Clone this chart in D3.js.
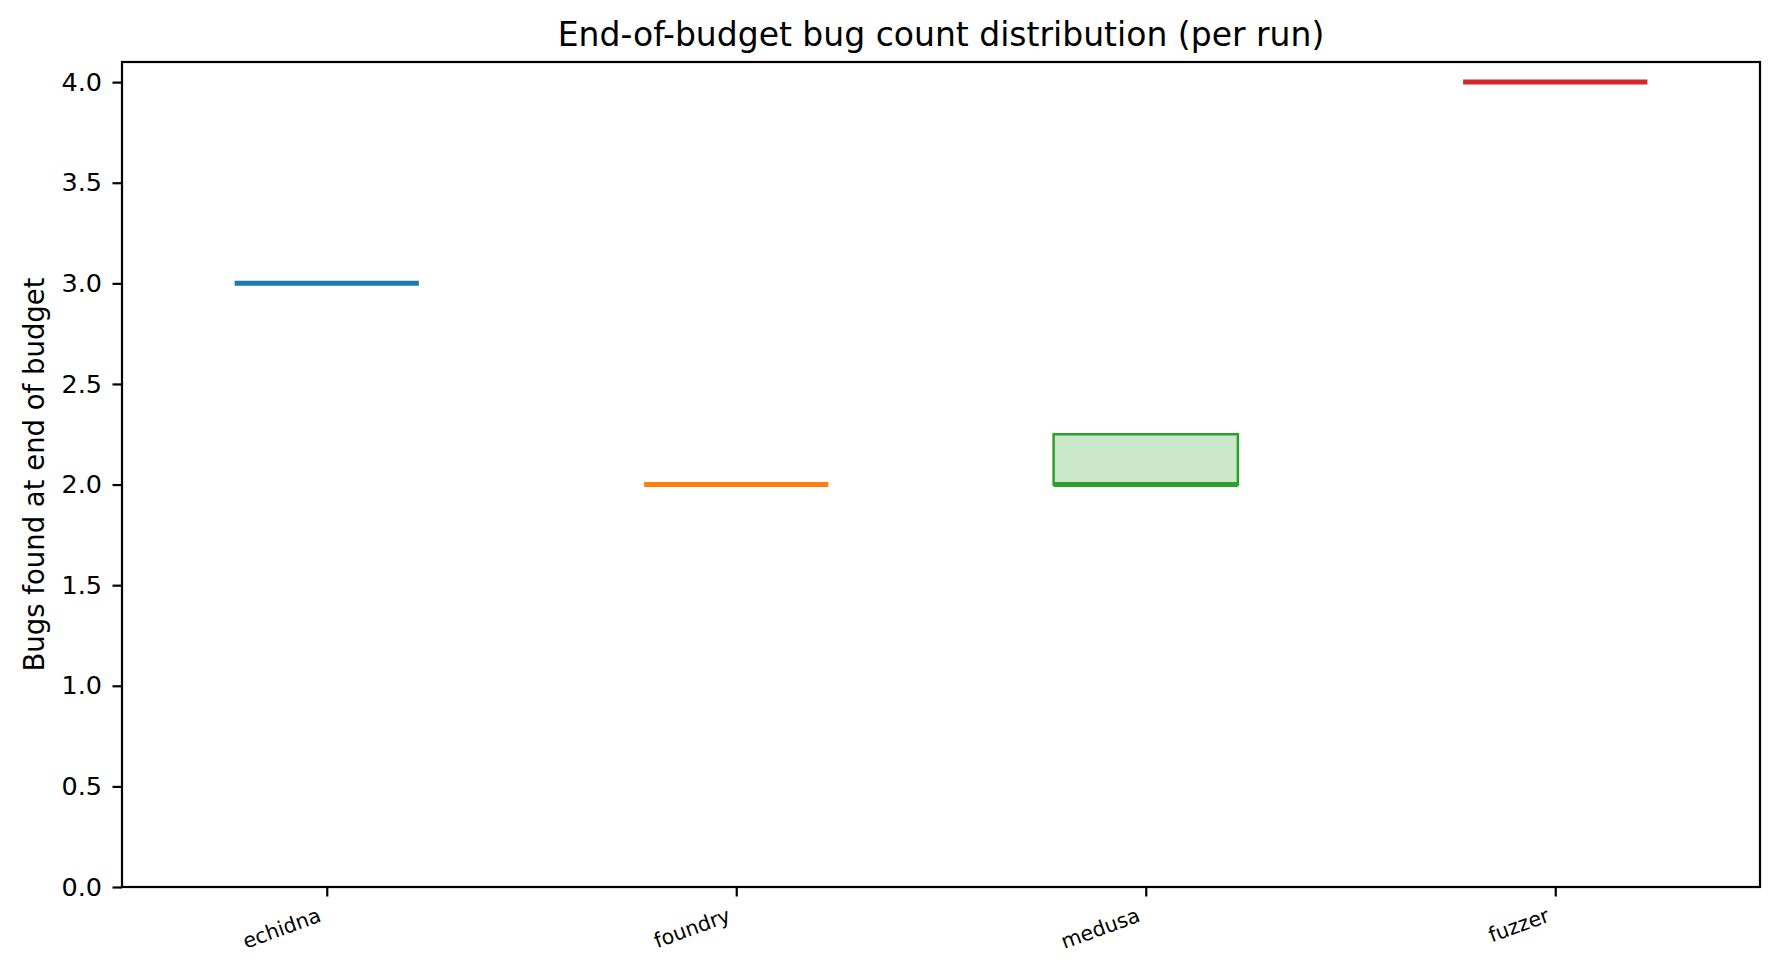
<!DOCTYPE html>
<html>
<head>
<meta charset="utf-8">
<script src="https://cdn.jsdelivr.net/npm/d3@7"></script>
<style>
  body { margin: 0; background: #fff; }
  svg { font-family: "DejaVu Sans", sans-serif; }
</style>
</head>
<body>
<svg width="1780" height="977"></svg>
<script>
// per-tool box stats
const tools = ["echidna", "foundry", "medusa", "fuzzer"];
const q1 = [3, 2, 2, 4];
const medians = [3, 2, 2, 4];
const q3 = [3, 2, 2.25, 4];
const whiskerLow = [3, 2, 2, 4];
const whiskerHigh = [3, 2, 2.25, 4];
const toolColors = ["#1f77b4", "#ff7f0e", "#2ca02c", "#d62728"];
const yTicks = [0, 0.5, 1, 1.5, 2, 2.5, 3, 3.5, 4];

const svg = d3.select("svg");
const width = +svg.attr("width");
const height = +svg.attr("height");

const margin = { top: 62, right: 20, bottom: 90, left: 122 };
const innerWidth = width - margin.left - margin.right;
const innerHeight = height - margin.top - margin.bottom;

const boxWidth = 0.45;

const data = tools.map((t, i) => ({
  tool: t,
  pos: i + 1,
  q1: q1[i],
  median: medians[i],
  q3: q3[i],
  lo: whiskerLow[i],
  hi: whiskerHigh[i],
  color: toolColors[i]
}));

const xScale = d3.scaleLinear().domain([0.5, tools.length + 0.5]).range([0, innerWidth]);
const yScale = d3.scaleLinear().domain([0, 4.1]).range([innerHeight, 0]);

svg.append("rect").attr("width", width).attr("height", height).attr("fill", "#fff");

const g = svg.append("g").attr("transform", `translate(${margin.left},${margin.top})`);

// y axis
const yAxisG = g.append("g")
  .call(d3.axisLeft(yScale).tickValues(yTicks).tickFormat(d3.format(".1f"))
    .tickSize(9.5).tickPadding(10.5));
yAxisG.select(".domain").remove();
yAxisG.selectAll(".tick line").attr("stroke", "#000").attr("stroke-width", 2.2);
yAxisG.selectAll(".tick text").attr("font-size", 25.5).attr("fill", "#000")
  .attr("font-family", "DejaVu Sans");

// x axis
const xAxisG = g.append("g")
  .attr("transform", `translate(0,${innerHeight})`)
  .call(d3.axisBottom(xScale).tickValues(data.map(d => d.pos))
    .tickFormat((d, i) => tools[i]).tickSize(9.5));
xAxisG.select(".domain").remove();
xAxisG.selectAll(".tick line").attr("stroke", "#000").attr("stroke-width", 2.2);
xAxisG.selectAll(".tick text")
  .attr("font-size", 20.5)
  .attr("fill", "#000")
  .attr("font-family", "DejaVu Sans")
  .attr("text-anchor", "end")
  .attr("y", null)
  .attr("dy", null)
  .attr("transform", "translate(-5,34) rotate(-20)");

// boxes
const boxes = g.selectAll(".box").data(data).enter().append("g").attr("class", "box");

boxes.append("line")
  .attr("x1", d => xScale(d.pos)).attr("x2", d => xScale(d.pos))
  .attr("y1", d => yScale(d.lo)).attr("y2", d => yScale(d.q1))
  .attr("stroke", d => d.color).attr("stroke-width", 2.2);

boxes.append("line")
  .attr("x1", d => xScale(d.pos)).attr("x2", d => xScale(d.pos))
  .attr("y1", d => yScale(d.q3)).attr("y2", d => yScale(d.hi))
  .attr("stroke", d => d.color).attr("stroke-width", 2.2);

boxes.append("rect")
  .attr("x", d => xScale(d.pos - boxWidth / 2))
  .attr("width", d => xScale(d.pos + boxWidth / 2) - xScale(d.pos - boxWidth / 2))
  .attr("y", d => yScale(d.q3))
  .attr("height", d => yScale(d.q1) - yScale(d.q3))
  .attr("fill", d => d.color)
  .attr("fill-opacity", 0.25)
  .attr("stroke", d => d.color)
  .attr("stroke-width", 2.5);

boxes.append("line")
  .attr("x1", d => xScale(d.pos - boxWidth / 2))
  .attr("x2", d => xScale(d.pos + boxWidth / 2))
  .attr("y1", d => yScale(d.median))
  .attr("y2", d => yScale(d.median))
  .attr("stroke", d => d.color)
  .attr("stroke-width", 5);

// frame
g.append("rect")
  .attr("width", innerWidth).attr("height", innerHeight)
  .attr("fill", "none").attr("stroke", "#000").attr("stroke-width", 2.2);

// title and y label
svg.append("text")
  .attr("x", margin.left + innerWidth / 2)
  .attr("y", 46)
  .attr("text-anchor", "middle")
  .attr("font-size", 33)
  .attr("fill", "#000")
  .text("End-of-budget bug count distribution (per run)");

svg.append("text")
  .attr("transform", `translate(44,${margin.top + innerHeight / 2}) rotate(-90)`)
  .attr("text-anchor", "middle")
  .attr("font-size", 27.5)
  .attr("fill", "#000")
  .text("Bugs found at end of budget");
</script>
</body>
</html>
